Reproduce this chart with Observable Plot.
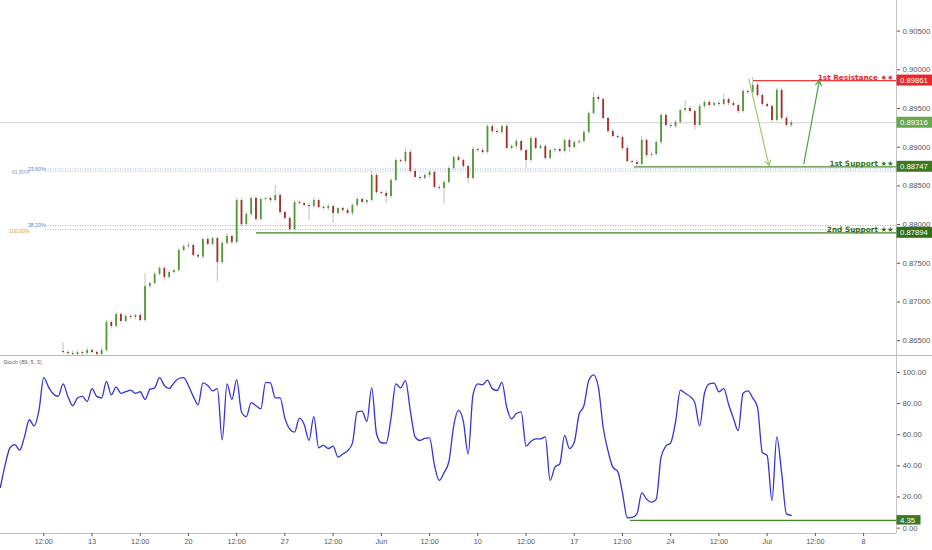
<!DOCTYPE html>
<html><head><meta charset="utf-8">
<script src="https://cdn.jsdelivr.net/npm/d3@7"></script>
<script src="https://cdn.jsdelivr.net/npm/@observablehq/plot@0.6"></script>
<style>
html,body{margin:0;padding:0;background:#fff;}
#toppane svg,#botpane svg{display:block;}
#botpane{border-top:1px solid #b8b8b8;}
</style></head>
<body><div id="toppane"></div><div id="botpane"></div>
<script>
// ---- time axis (trading days from Mon 13 May) ----
const tickT = [-2.5,0,2.5,5,7.5,10,12.5,15,17.5,20,22.5,25,27.5,30,32.5,35,37.5,40];
const tickLabels = ["12:00","13","12:00","20","12:00","27","12:00","Jun","12:00","10","12:00","17","12:00","24","12:00","Jul","12:00","8"];
const priceTicks = [0.865,0.870,0.875,0.880,0.885,0.890,0.895,0.900,0.905];
const stochTicks = [0,20,40,60,80,100];

// ---- candles ----
const candleStart = -1.5, candleStep = 0.25, pip = 0.0001, firstOpen = 0.86360;
const closes = [
0.86348,0.86335,0.86322,0.86348,0.86335,0.86373,0.86348,0.86322,0.86373,0.86735,
0.86683,0.86839,0.86748,0.86813,0.86800,0.86826,0.86761,0.87200,0.87239,0.87355,
0.87433,0.87317,0.87381,0.87407,0.87665,0.87717,0.87730,0.87601,0.87580,0.87807,
0.87743,0.87820,0.87510,0.87756,0.87846,0.87769,0.88311,0.88001,0.88130,0.88337,
0.88066,0.88324,0.88337,0.88311,0.88376,0.88156,0.88079,0.87937,0.88286,0.88273,
0.88247,0.88234,0.88311,0.88221,0.88208,0.88234,0.88143,0.88208,0.88182,0.88143,
0.88247,0.88324,0.88286,0.88311,0.88634,0.88415,0.88402,0.88363,0.88570,0.88828,
0.88815,0.88932,0.88686,0.88609,0.88596,0.88634,0.88673,0.88479,0.88466,0.88544,
0.88725,0.88867,0.88828,0.88751,0.88596,0.88970,0.88957,0.88932,0.89267,0.89203,
0.89190,0.89267,0.88983,0.89009,0.89074,0.88957,0.88828,0.89112,0.88983,0.89009,
0.88854,0.88957,0.88970,0.88944,0.89087,0.88996,0.89061,0.89074,0.89190,0.89435,
0.89642,0.89616,0.89371,0.89203,0.89138,0.89125,0.88983,0.88815,0.88802,0.88776,
0.89087,0.88893,0.88906,0.89061,0.89410,0.89280,0.89267,0.89319,0.89474,0.89500,
0.89461,0.89280,0.89526,0.89578,0.89539,0.89565,0.89552,0.89616,0.89565,0.89539,
0.89461,0.89720,0.89707,0.89800,0.89668,0.89552,0.89526,0.89345,0.89734,0.89372,
0.89280,0.89316];
const upperWick = [
11,2,3,2,1,3,2,2,4,3, 2,3,2,3,2,1,3,17,2,3, 2,3,2,1,3,2,4,2,3,2, 3,2,2,3,4,2,3,2,3,2,
3,2,1,2,13,3,2,3,2,2, 1,3,4,2,2,3,2,1,2,3, 2,3,2,2,6,3,2,3,2,3, 2,5,3,2,2,3,2,2,3,2,
3,2,3,2,2,3,2,3,2,2, 3,2,3,2,3,2,2,3,2,2, 3,2,2,3,2,3,2,2,3,2, 7,3,2,2,3,2,2,3,2,3,
5,2,3,2,3,2,2,3,2,10, 3,2,3,2,3,2,3,7,2,3, 2,3,2,10,3,2,2,2,3,2, 2,3];
const lowerWick = [
2,3,2,2,3,2,2,3,2,2, 3,2,3,2,2,3,2,2,3,2, 2,3,2,2,3,2,3,2,2,3, 2,2,25,3,2,3,2,3,2,2,
3,2,2,3,2,3,2,3,2,2, 2,18,3,2,2,3,13,2,3,2, 3,2,2,3,2,3,2,9,3,2, 2,3,2,2,3,2,3,2,2,20,
2,3,2,3,7,2,3,2,2,3, 2,3,2,2,3,2,10,3,2,2, 3,2,3,2,2,6,2,3,2,2, 2,3,2,3,2,2,3,2,2,3,
2,3,2,2,3,2,3,2,2,3, 2,6,2,3,2,2,3,2,3,2, 3,2,2,3,2,3,2,3,2,2, 2,3];
const currentPrice = 0.89316;

// ---- support / resistance ----
const levelNames = ["1st Resistance ★★","1st Support ★★","2nd Support ★★"];
const levelPrices = [0.89861,0.88747,0.87894];
const levelStarts = [34.29,28.12,8.53];

// ---- fibonacci ----
const fibLabels = ["23.60%","61.80%","38.20%","100.00%"];
const fibPrices = [0.88718,0.88690,0.87988,0.87937];
const fibStart = -2.41;

// ---- projection arrows [t, price] ----
const arrowFrom = [[34.05,0.89884],[36.90,0.88786]];
const arrowTo   = [[35.09,0.88764],[37.71,0.89862]];

// ---- stochastic ----
const stochTitle = "Stoch (89, 5, 3)";
const stochStart = -4.75, stochStep = 0.25;
const stochValues = [
25.6,40,51,53,49.5,58,69,65,75,96,
90,85.5,84,92,84,78,83,84,80.7,88.9,
84,83,93.6,85,90,86,87,88,86,87,
82,88.5,89.5,96,91,89,92.7,95.5,96,91,
84,78.6,92.7,91,87.5,89,56,92,82,94.8,
74,71,80,78,76,93,92.7,83,83,70,
63,61,70,66,55.7,71,51,52.5,50.5,52,
45,47,49,54,74,74.5,68,89.5,60,54.2,
54,70,92,89.5,94.2,75,58,55.7,57,57.4,
40,30,35,42,65,75,68,47,85,92,
91.4,94.5,89,87.8,93,77,69.5,73,74,52,
55,56.7,56.7,58,30,38.5,40.7,59,50.5,54.5,
72.5,78,94,97.8,90,64,49,38.5,35.8,22,
6,6.2,8.5,22,18,16,18,45,52,54.2,
67.5,88,86,84,80,65,86,92,92.5,87,
89,79,70,62,86,87.5,83,77,48,46,
17,58,35,8.5,7.5];
const stochLevel = 4.35, stochLevelStart = 27.92;

// ---- build ----
const W = 932;
const xDom = [-4.743, 41.705];
const font = "Liberation Sans, Arial, sans-serif";
const UP = "#4f9a33", DOWN = "#a82b2b", WICK = "#a3a3a3";

const candles = closes.map((c, i) => {
  const o = i === 0 ? firstOpen : closes[i - 1];
  return {t: candleStart + candleStep * i, o, c,
    h: Math.max(o, c) + upperWick[i] * pip,
    l: Math.min(o, c) - lowerWick[i] * pip};
});
const levels = levelNames.map((n, i) => ({name: n, price: levelPrices[i], start: levelStarts[i]}));
const levelStyle = [
  {line: "#f03a3a", text: "#e02b2b", box: "#e8282c"},
  {line: "#4a8f2a", text: "#3a741e", box: "#3b7a22"},
  {line: "#3f8224", text: "#356b1b", box: "#30701a"}
];
const fibs = fibLabels.map((l, i) => ({label: l, price: fibPrices[i]}));
const fibStyle = {"23.60%": ["#8fb2ea", "#4f86d9"], "61.80%": ["#b4bede", "#8d9bc4"], "38.20%": ["#8fb2ea", "#4f86d9"], "100.00%": ["#f0bb66", "#e0a030"]};
const arrows = arrowFrom.map((f, i) => ({x1: f[0], y1: f[1], x2: arrowTo[i][0], y2: arrowTo[i][1]}));
const arrowColors = ["#9ccc6a", "#48a040"];
const stoch = stochValues.map((v, i) => ({t: stochStart + stochStep * i, v}));

const topPlot = Plot.plot({
  width: W, height: 355,
  marginLeft: 0, marginRight: 36, marginTop: 0, marginBottom: 0,
  style: {fontFamily: font, background: "#fff", overflow: "hidden"},
  x: {domain: xDom, axis: null},
  y: {domain: [0.863088, 0.908953]},
  marks: [
    Plot.ruleY([currentPrice], {stroke: "#d2d2d2", strokeWidth: 1}),
    ...fibs.map(f => Plot.ruleY([f], {y: "price", x1: fibStart, x2: xDom[1], stroke: fibStyle[f.label][0], strokeWidth: 1, strokeDasharray: "1,1.5"})),
    ...fibs.map((f, i) => Plot.text([f], {x: fibStart, y: "price", text: "label", textAnchor: "end", dx: (i % 2 === 1) ? -16 : 0, dy: (i % 2 === 1) ? 1.5 : 0, fontSize: 5.2, fill: fibStyle[f.label][1]})),
    ...levels.map((l, i) => Plot.ruleY([l], {y: "price", x1: "start", x2: xDom[1], stroke: levelStyle[i].line, strokeWidth: 1.3})),
    ...levels.map((l, i) => Plot.text([l], {x: xDom[1], y: "price", text: "name", textAnchor: "end", lineAnchor: "bottom", dx: -3, dy: -1, fontSize: 7.3, fontWeight: "bold", fontFamily: "DejaVu Sans, sans-serif", fill: levelStyle[i].text})),
    Plot.ruleX(candles, {x: "t", y1: "l", y2: "h", stroke: WICK, strokeWidth: 0.7}),
    Plot.ruleX(candles.filter(d => d.c >= d.o), {x: "t", y1: "o", y2: "c", stroke: UP, strokeWidth: 1.8}),
    Plot.ruleX(candles.filter(d => d.c < d.o), {x: "t", y1: "o", y2: "c", stroke: DOWN, strokeWidth: 1.8}),
    ...arrows.map((a, i) => Plot.arrow([a], {x1: "x1", y1: "y1", x2: "x2", y2: "y2", stroke: arrowColors[i], strokeWidth: 1.2, headLength: 7, bend: 0})),
    Plot.ruleX([xDom[1]], {stroke: "#c4c4c4"}),
    Plot.axisY({anchor: "right", label: null, ticks: priceTicks, tickFormat: d => d.toFixed(5), tickSize: 3, tickPadding: 3, fontSize: 7.7, color: "#555"})
  ]
});
document.getElementById("toppane").appendChild(topPlot);

function addBox(svg, yVal, label, bg, w, h) {
  const py = svg.scale("y").apply(yVal);
  const x0 = svg.scale("x").range[1] + 0.5;
  const g = d3.select(svg).append("g");
  g.append("rect").attr("x", x0).attr("y", py - h / 2).attr("width", w).attr("height", h).attr("fill", bg);
  g.append("text").attr("x", x0 + 3.5).attr("y", py).attr("dy", "0.35em").attr("fill", "#fff")
    .attr("text-anchor", "start").attr("font-size", 7.7).attr("font-family", font).text(label);
}
addBox(topPlot, currentPrice, currentPrice.toFixed(5), "#6aa84f", 36, 11);
levels.forEach((l, i) => addBox(topPlot, l.price, l.price.toFixed(5), levelStyle[i].box, 36, 11));

const labelOf = new Map(tickT.map((t, i) => [t, tickLabels[i]]));
const botPlot = Plot.plot({
  width: W, height: 194,
  marginLeft: 0, marginRight: 36, marginTop: 0, marginBottom: 17,
  style: {fontFamily: font, background: "#fff", overflow: "hidden"},
  x: {domain: xDom},
  y: {domain: [-4.11, 109.64]},
  marks: [
    Plot.ruleY([stochLevel], {x1: stochLevelStart, x2: xDom[1], stroke: "#3f8a25", strokeWidth: 1.3}),
    Plot.line(stoch, {x: "t", y: "v", stroke: "#3434d8", strokeWidth: 1.3, curve: "monotone-x"}),
    Plot.text([stochTitle], {frameAnchor: "top-left", text: d => d, dx: 3, dy: 4, fontSize: 5.6, fill: "#666"}),
    Plot.ruleX([xDom[1]], {stroke: "#c4c4c4"}),
    Plot.ruleY([-4.11], {stroke: "#c4c4c4"}),
    Plot.axisY({anchor: "right", label: null, ticks: stochTicks, tickFormat: d => d.toFixed(2), tickSize: 3, tickPadding: 3, fontSize: 7.7, color: "#555", dy: 1}),
    Plot.axisX({anchor: "bottom", label: null, ticks: tickT, tickFormat: d => labelOf.get(d), tickSize: 3, tickPadding: 2.5, fontSize: 7.3, color: "#555"})
  ]
});
document.getElementById("botpane").appendChild(botPlot);
addBox(botPlot, stochLevel, stochLevel.toFixed(2), "#3b7a22", 24, 9.5);
</script>
</body></html>
